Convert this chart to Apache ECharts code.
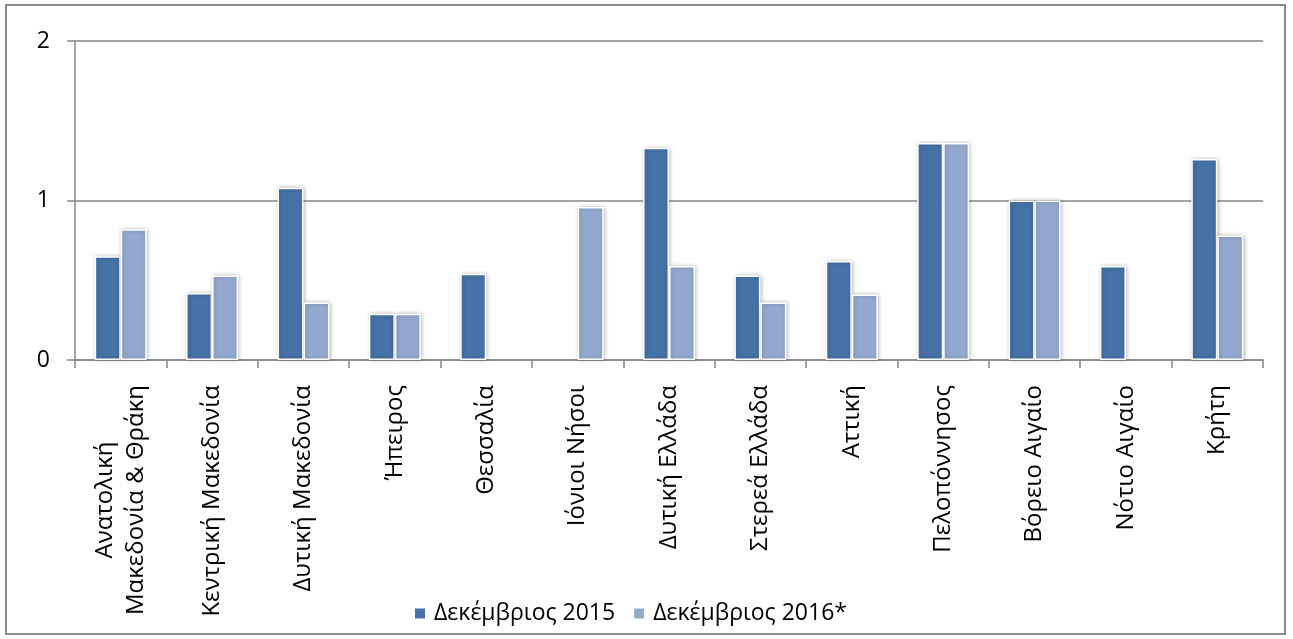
<!DOCTYPE html>
<html><head><meta charset="utf-8">
<script src="https://cdn.jsdelivr.net/npm/echarts@6/dist/echarts.min.js"></script>
<style>html,body{margin:0;padding:0;background:#fff}#c{width:1293px;height:639px}</style>
</head><body><div id="c"></div>
<script>
const categories = ['Ανατολική\nΜακεδονία & Θράκη','Κεντρική Μακεδονία','Δυτική Μακεδονία','Ήπειρος','Θεσσαλία','Ιόνιοι Νήσοι','Δυτική Ελλάδα','Στερεά Ελλάδα','Αττική','Πελοπόννησος','Βόρειο Αιγαίο','Νότιο Αιγαίο','Κρήτη'];
const seriesNames = ['Δεκέμβριος 2015','Δεκέμβριος 2016*'];
const dec2015 = [0.65,0.42,1.08,0.29,0.54,null,1.33,0.53,0.62,1.36,1.00,0.59,1.26];
const dec2016 = [0.82,0.53,0.36,0.29,null,0.96,0.59,0.36,0.41,1.36,1.00,null,0.78];
const yTicks = [0,1,2];
const colors = ['#4572A7','#93A9CF'];
const font = '"Open Sans", "DejaVu Sans", sans-serif';
const chart = echarts.init(document.getElementById('c'));
const barStyle = c => ({color:c, borderColor:'#fff', borderWidth:1.5, shadowBlur:4, shadowColor:'rgba(0,0,0,0.25)', shadowOffsetX:1, shadowOffsetY:0});
chart.setOption({
  animation:false,
  textStyle:{fontFamily:font},
  graphic:[{type:'rect', shape:{x:6,y:5,width:1279,height:629}, style:{fill:'none', stroke:'#8c8c8c', lineWidth:2}, z:-1}],
  grid:{left:75,right:30,top:41,bottom:279},
  legend:{bottom:9,left:408,itemWidth:12,itemHeight:12,itemGap:17,icon:'rect',
    textStyle:{fontSize:23,color:'#000',fontFamily:font,padding:[0,0,0,3]},data:seriesNames},
  xAxis:{type:'category',data:categories,
    axisLine:{lineStyle:{color:'#868686',width:1.5}},
    axisTick:{show:true,length:8,lineStyle:{color:'#868686',width:1.5}},
    axisLabel:{rotate:90,interval:0,margin:25,color:'#000',fontSize:24,fontFamily:font,
      formatter:v=>v.split('\n').map(s=>'{a|'+s+'}').join('\n'),
      rich:{a:{align:'center',fontSize:24,fontFamily:font,color:'#000',lineHeight:31}}}},
  yAxis:{type:'value',min:0,max:2,interval:1,
    axisLine:{show:true,lineStyle:{color:'#868686',width:1.5}},
    axisTick:{show:true,length:8,lineStyle:{color:'#868686',width:1.5}},
    splitLine:{lineStyle:{color:'#868686',width:1.5}},
    axisLabel:{color:'#000',fontSize:23,margin:25,fontFamily:font,
      formatter:v=>yTicks.includes(v)?String(v):''}},
  series:[
    {name:seriesNames[0],type:'bar',data:dec2015,barWidth:26,barGap:'0%',itemStyle:barStyle(colors[0])},
    {name:seriesNames[1],type:'bar',data:dec2016,barWidth:26,barGap:'0%',itemStyle:barStyle(colors[1])}
  ]
});
</script></body></html>
